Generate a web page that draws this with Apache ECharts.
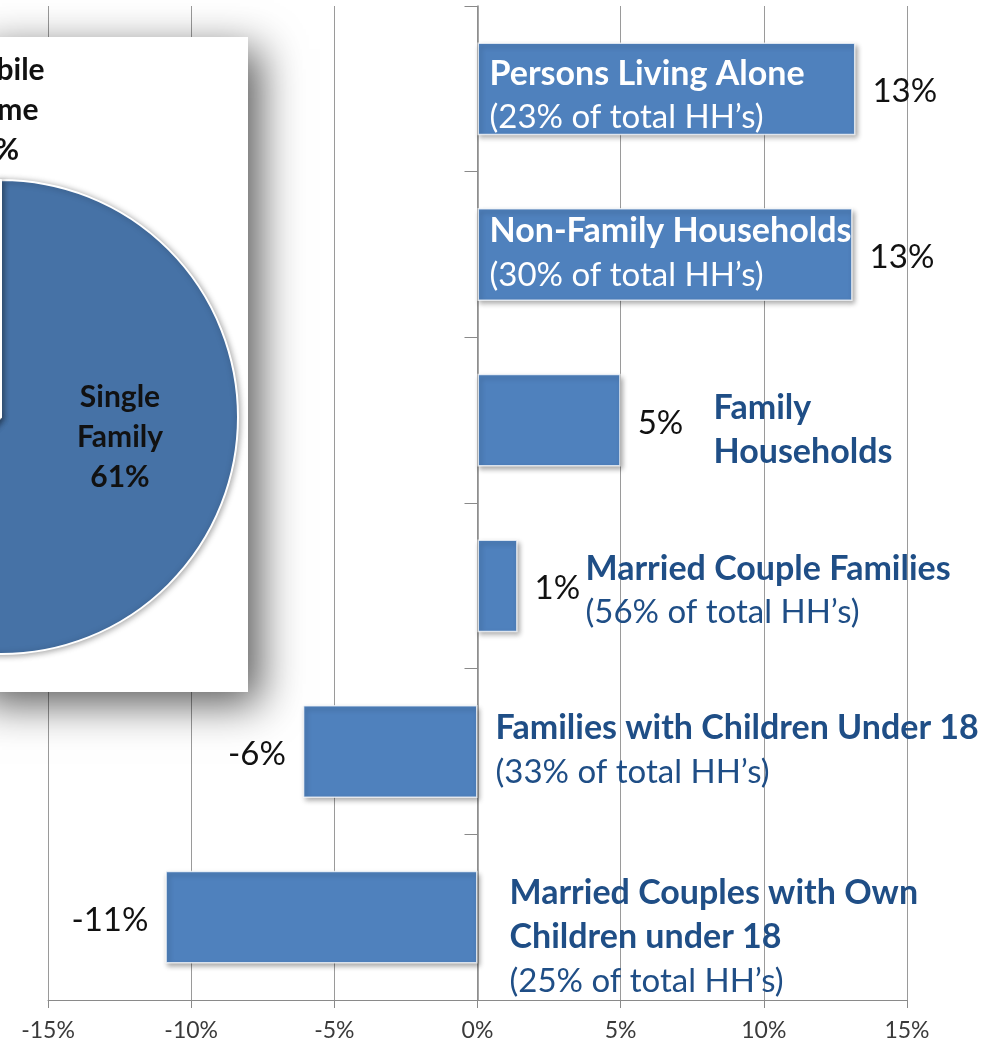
<!DOCTYPE html>
<html>
<head>
<meta charset="utf-8">
<script src="https://cdn.jsdelivr.net/npm/echarts@6/dist/echarts.min.js"></script>
<style>
  html, body { margin: 0; padding: 0; background: #fff; }
  #chart { width: 996px; height: 1048px; }
</style>
</head>
<body>
<div id="chart"></div>
<script>
// ---- data ----
const categories = [
  'Persons Living Alone',
  'Non-Family Households',
  'Family Households',
  'Married Couple Families',
  'Families with Children Under 18',
  'Married Couples with Own Children under 18'
];
const changeValues = [13.2, 13.1, 5.0, 1.4, -6.1, -10.9];
const catTitles = [
  'Persons Living Alone',
  'Non-Family Households',
  'Family\nHouseholds',
  'Married Couple Families',
  'Families with Children Under 18',
  'Married Couples with Own\nChildren under 18'
];
const catShares = ['23%', '30%', '', '56%', '33%', '25%'];
const xTickMin = -15, xTickMax = 15, xTickStep = 5;
const pieNames = ['Single Family', 'Mobile Home', 'Multi-Family'];
const pieValues = [61, 8, 31];
const pieLabelLines = [['Single', 'Family'], ['Mobile', 'Home'], ['Multi-', 'Family']];

// ---- layout (pixels) ----
const FONT = 'Lato';
const labelDX = [12, 12, 236, 108, 18, 32];      // from zero line
const labelDY = [-37, -45, -34, -39, -45, -46];   // top of text block from band centre
const labelWhite = [true, true, false, false, false, false];

const chart = echarts.init(document.getElementById('chart'), null, { renderer: 'canvas' });

const option = {
  backgroundColor: '#ffffff',
  animation: false,
  grid: { left: 48, right: 89, top: 6, bottom: 48, containLabel: false },
  xAxis: {
    type: 'value',
    min: xTickMin, max: xTickMax, interval: xTickStep,
    axisLine: { show: true, onZero: false, lineStyle: { color: '#8a8a8a', width: 1 } },
    axisTick: { show: true, length: 8, lineStyle: { color: '#8a8a8a' } },
    axisLabel: { formatter: v => v + '%', color: '#3a3a3a', fontFamily: FONT, fontSize: 23, margin: 19 },
    splitLine: { show: true, lineStyle: { color: '#9a9a9a', width: 1 } }
  },
  yAxis: {
    type: 'category',
    data: categories,
    inverse: true,
    axisLine: { show: true, onZero: true, lineStyle: { color: '#8a8a8a', width: 1.5 } },
    axisTick: { show: true, length: 13, lineStyle: { color: '#8a8a8a' } },
    axisLabel: { show: false },
    splitLine: { show: false }
  },
  series: [
    {
      type: 'bar',
      z: 2,
      data: changeValues.map(v => ({
        value: v,
        label: { position: v >= 0 ? 'right' : 'left' }
      })),
      barCategoryGap: '44%',
      itemStyle: {
        color: '#4F81BD',
        borderColor: 'rgba(255,255,255,0.75)',
        borderWidth: 1.5,
        shadowBlur: 5,
        shadowOffsetX: 2,
        shadowOffsetY: 3,
        shadowColor: 'rgba(0,0,0,0.35)'
      },
      label: {
        show: true,
        distance: 17,
        offset: [0, 3],
        formatter: p => Math.round(p.value) + '%',
        color: '#111',
        fontFamily: FONT,
        fontSize: 33
      }
    },
    {
      type: 'pie',
      z: 5,
      center: [1, 417],
      radius: 237,
      startAngle: 90,
      clockwise: true,
      silent: true,
      label: { show: false },
      labelLine: { show: false },
      itemStyle: {
        color: '#4672A6',
        borderColor: '#ffffff',
        borderWidth: 2,
        shadowBlur: 6,
        shadowColor: 'rgba(0,0,0,0.35)',
        shadowOffsetX: 1,
        shadowOffsetY: 1
      },
      data: pieNames.map((n, i) => ({ name: n, value: pieValues[i] }))
    }
  ],
  graphic: [
    {
      type: 'rect',
      z: 1,
      shape: { x: -30, y: 37, width: 278, height: 655 },
      style: {
        fill: '#ffffff',
        shadowBlur: 40,
        shadowOffsetX: 12,
        shadowOffsetY: 12,
        shadowColor: 'rgba(0,0,0,0.65)'
      }
    }
  ]
};
chart.setOption(option);

// category text labels, positioned from the axes
const extra = [];
for (let i = 0; i < categories.length; i++) {
  const p = chart.convertToPixel({ gridIndex: 0 }, [0, i]);
  const col = labelWhite[i] ? '#ffffff' : '#1F4E86';
  let txt = catTitles[i].split('\n').map(s => '{t|' + s + '}').join('\n');
  if (catShares[i]) txt += '\n{s|(' + catShares[i] + ' of total HH\u2019s)}';
  extra.push({
    type: 'text',
    z: 10,
    x: p[0] + labelDX[i],
    y: p[1] + labelDY[i],
    style: {
      text: txt,
      align: 'left',
      verticalAlign: 'top',
      rich: {
        t: { fontFamily: FONT, fontWeight: 'bold', fontSize: 34, lineHeight: 44, fill: col, color: col },
        s: { fontFamily: FONT, fontWeight: 'normal', fontSize: 33, lineHeight: 44, fill: col, color: col }
      }
    }
  });
}
// pie labels
const pieLabelPos = [[120, 437], [-2, 110]];
for (let i = 0; i < 2; i++) {
  extra.push({
    type: 'text',
    z: 12,
    x: pieLabelPos[i][0],
    y: pieLabelPos[i][1],
    style: {
      text: pieLabelLines[i].concat([pieValues[i] + '%']).join('\n'),
      align: 'center',
      verticalAlign: 'middle',
      fontFamily: FONT,
      fontWeight: 'bold',
      fontSize: 30,
      lineHeight: 40,
      fill: '#111'
    }
  });
}
option.graphic = option.graphic.concat(extra);
chart.setOption({ graphic: option.graphic });
</script>
</body>
</html>
